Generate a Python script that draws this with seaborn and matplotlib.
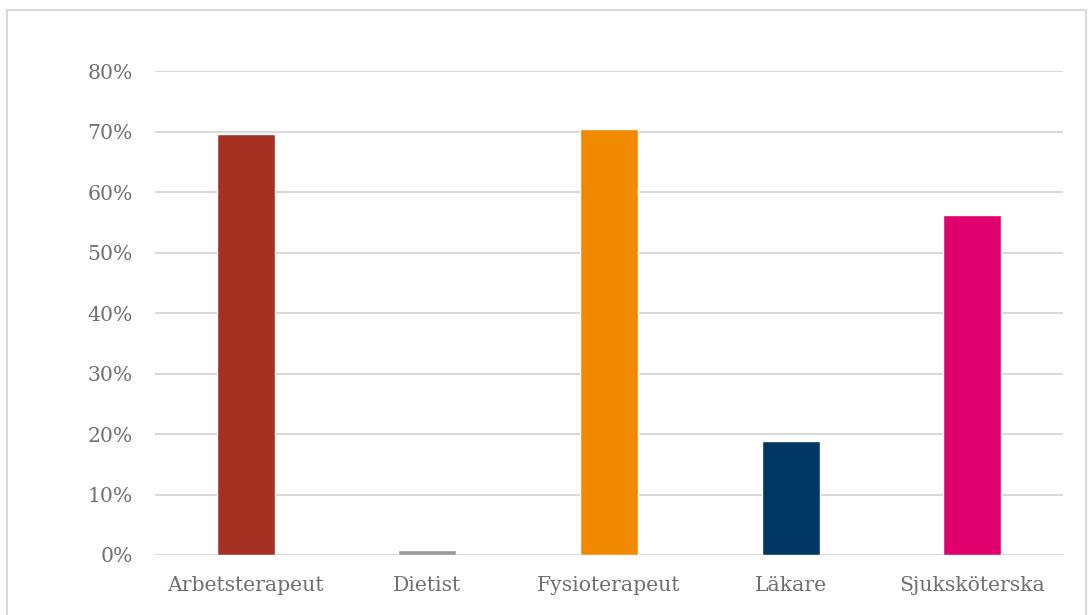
import matplotlib
matplotlib.use("Agg")
import matplotlib.pyplot as plt
from matplotlib.patches import Rectangle
from matplotlib.ticker import PercentFormatter
import seaborn as sns
import pandas as pd

categories = ["Arbetsterapeut", "Dietist", "Fysioterapeut", "Läkare", "Sjuksköterska"]
shares = [0.697, 0.008, 0.705, 0.189, 0.563]
colors = ["#A63122", "#999999", "#F28A00", "#003764", "#E0006E"]
y_ticks = [0.0, 0.1, 0.2, 0.3, 0.4, 0.5, 0.6, 0.7, 0.8]

sns.set_theme(style="white")
plt.rcParams["font.family"] = ["DejaVu Serif", "Liberation Serif"]

df = pd.DataFrame({"yrke": categories, "andel": shares})

fig = plt.figure(figsize=(10.88, 6.15), dpi=100)
ax = fig.add_axes([0.1425, 0.0976, 0.977 - 0.1425, 0.8842 - 0.0976])

sns.barplot(data=df, x="yrke", y="andel", hue="yrke", palette=colors,
            width=0.32, legend=False, ax=ax, saturation=1)

ax.set_ylim(0, 0.8)
ax.set_xlim(-0.5, len(categories) - 0.5)
ax.set_yticks(y_ticks)
ax.yaxis.set_major_formatter(PercentFormatter(1.0, decimals=0))
ax.grid(axis="y", color="#D9D9D9", linewidth=1.5)
ax.set_axisbelow(True)
for s in ax.spines.values():
    s.set_visible(False)
ax.tick_params(axis="both", length=0, labelsize=14.7, labelcolor="#707070")
ax.tick_params(axis="y", pad=16)
ax.tick_params(axis="x", pad=15)
ax.set_xlabel("")
ax.set_ylabel("")

# light frame around the chart area
fig.patches.append(Rectangle((7 / 1088, -0.05), 1 - 9 / 1088, 1.05 - 10 / 615,
                             transform=fig.transFigure, fill=False,
                             edgecolor="#D9D9D9", linewidth=1.5))

fig.savefig("out.png", dpi=100, facecolor="white")
